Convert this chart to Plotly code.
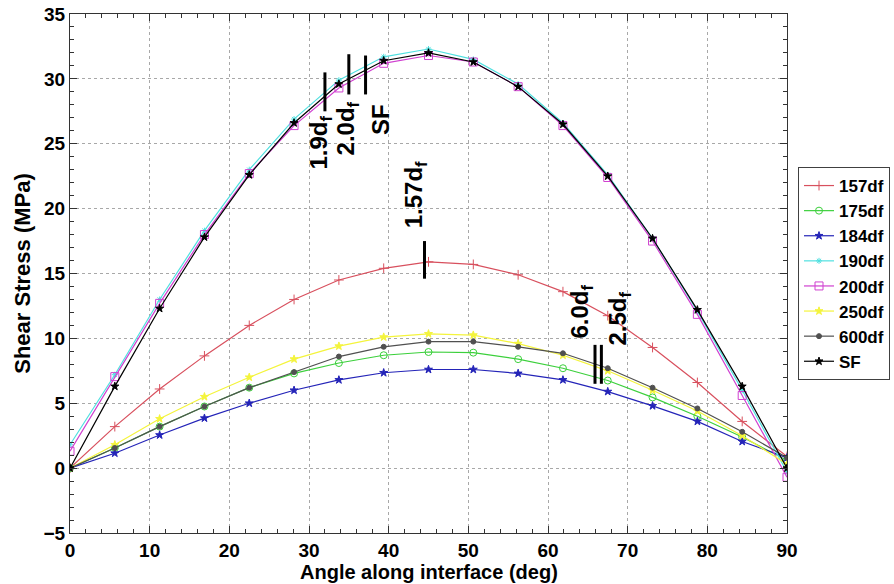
import plotly.graph_objects as go

# Angle positions along the interface (deg)
angle = [0, 5.625, 11.25, 16.875, 22.5, 28.125, 33.75, 39.375, 45,
         50.625, 56.25, 61.875, 67.5, 73.125, 78.75, 84.375, 90]

# Shear stress (MPa) for each fibre-spacing case
s157 = [0.0, 3.2, 6.1, 8.65, 11.0, 13.0, 14.5, 15.4, 15.9, 15.7, 14.9, 13.6, 11.75, 9.3, 6.6, 3.6, 0.9]
s175 = [0.0, 1.55, 3.2, 4.75, 6.2, 7.3, 8.1, 8.7, 8.95, 8.9, 8.4, 7.7, 6.75, 5.45, 4.0, 2.4, 0.6]
s184 = [0.0, 1.15, 2.55, 3.85, 5.0, 6.0, 6.8, 7.35, 7.6, 7.6, 7.3, 6.8, 5.9, 4.8, 3.6, 2.05, 0.8]
s190 = [1.8, 7.2, 13.0, 18.3, 23.0, 26.9, 29.9, 31.7, 32.3, 31.5, 29.6, 26.6, 22.6, 17.7, 12.1, 6.0, -0.3]
s200 = [1.3, 7.05, 12.7, 18.0, 22.7, 26.4, 29.3, 31.2, 31.8, 31.3, 29.4, 26.4, 22.4, 17.5, 11.85, 5.6, -0.7]
s250 = [0.0, 1.8, 3.8, 5.5, 7.0, 8.4, 9.4, 10.1, 10.35, 10.25, 9.6, 8.7, 7.5, 6.0, 4.4, 2.5, 0.3]
s600 = [0.0, 1.55, 3.2, 4.75, 6.2, 7.4, 8.6, 9.35, 9.75, 9.75, 9.35, 8.85, 7.7, 6.2, 4.6, 2.8, 0.8]
sSF = [0.0, 6.3, 12.3, 17.8, 22.6, 26.6, 29.6, 31.4, 32.0, 31.3, 29.4, 26.5, 22.5, 17.7, 12.2, 6.3, 0.0]

series_names = ["157df", "175df", "184df", "190df", "200df", "250df", "600df", "SF"]
series_values = [s157, s175, s184, s190, s200, s250, s600, sSF]

# Spacing labels: (text, text x, text y) and marker bars (x, y0, y1)
label_text = ["1.9d<sub>f</sub>", "2.0d<sub>f</sub>", "SF", "1.57d<sub>f</sub>",
              "6.0d<sub>f</sub>", "2.5d<sub>f</sub>"]
label_x = [31.4, 34.8, 38.9, 43.3, 64.2, 69.0]
label_y = [25.1, 26.2, 26.9, 21.1, 12.1, 11.5]
bar_x = [32.0, 35.0, 37.1, 44.5, 65.9, 66.7]
bar_y0 = [27.5, 28.8, 28.8, 14.6, 6.5, 6.5]
bar_y1 = [30.5, 31.9, 31.8, 17.5, 9.5, 9.5]

styles = [
    dict(color="#d8505e", symbol="cross-thin-open", size=7),
    dict(color="#3cd03c", symbol="circle-open", size=7),
    dict(color="#2424b8", symbol="star", size=6),
    dict(color="#50e0e0", symbol="asterisk-open", size=5),
    dict(color="#d040d0", symbol="square-open", size=8),
    dict(color="#f4f43c", symbol="star", size=6),
    dict(color="#505050", symbol="circle", size=5),
    dict(color="#000000", symbol="star", size=6),
]

FONT = "Liberation Sans, Arial, sans-serif"

fig = go.Figure()
for name, vals, st in zip(series_names, series_values, styles):
    fig.add_trace(go.Scatter(
        x=angle, y=vals, name=name, mode="lines+markers",
        legendgroup=name,
        line=dict(color=st["color"], width=1.2),
        marker=dict(symbol=st["symbol"], size=st["size"], color=st["color"],
                    line=dict(color=st["color"], width=1)),
    ))

for t, lx, ly in zip(label_text, label_x, label_y):
    fig.add_annotation(x=lx, y=ly, text=t, textangle=-90, showarrow=False,
                       xanchor="center", yanchor="middle",
                       font=dict(family=FONT, size=24, color="black", weight="bold"))

for bx, y0, y1 in zip(bar_x, bar_y0, bar_y1):
    fig.add_shape(type="line", x0=bx, x1=bx, y0=y0, y1=y1,
                  line=dict(color="black", width=3))

# x-axis title placed just under the tick labels
fig.add_annotation(x=0.5, y=-0.075, xref="paper", yref="paper",
                   text="Angle along interface (deg)", showarrow=False,
                   xanchor="center", yanchor="middle",
                   font=dict(family=FONT, size=20, color="black", weight="bold"))

axis_common = dict(
    showline=True, linecolor="#333333", linewidth=1, mirror="allticks",
    ticks="inside", ticklen=7, tickcolor="#333333",
    showgrid=True, gridcolor="#a8a8a8", griddash="dot", gridwidth=1,
    zeroline=False, automargin=False,
    tickfont=dict(family=FONT, size=19, color="black", weight="bold"),
)

fig.update_xaxes(range=[0, 90], dtick=10, tick0=0,
                 minor=dict(dtick=2, ticks="inside", ticklen=4, tickcolor="#333333", showgrid=False),
                 **axis_common)
fig.update_yaxes(range=[-5, 35], dtick=5, tick0=0,
                 minor=dict(dtick=1, ticks="inside", ticklen=4, tickcolor="#333333", showgrid=False),
                 title=dict(text="Shear Stress (MPa)", standoff=6,
                            font=dict(family=FONT, size=22, color="black", weight="bold")),
                 **axis_common)

fig.update_layout(
    width=894, height=584,
    margin=dict(l=70, r=107, t=14, b=51, autoexpand=False),
    plot_bgcolor="white", paper_bgcolor="white",
    legend=dict(xref="container", yref="container",
                x=798 / 894, y=1 - 167 / 584, xanchor="left", yanchor="top",
                bgcolor="white", bordercolor="#404040", borderwidth=1,
                tracegroupgap=0,
                font=dict(family=FONT, size=17, color="black", weight="bold")),
)

fig.write_html("out.html")
